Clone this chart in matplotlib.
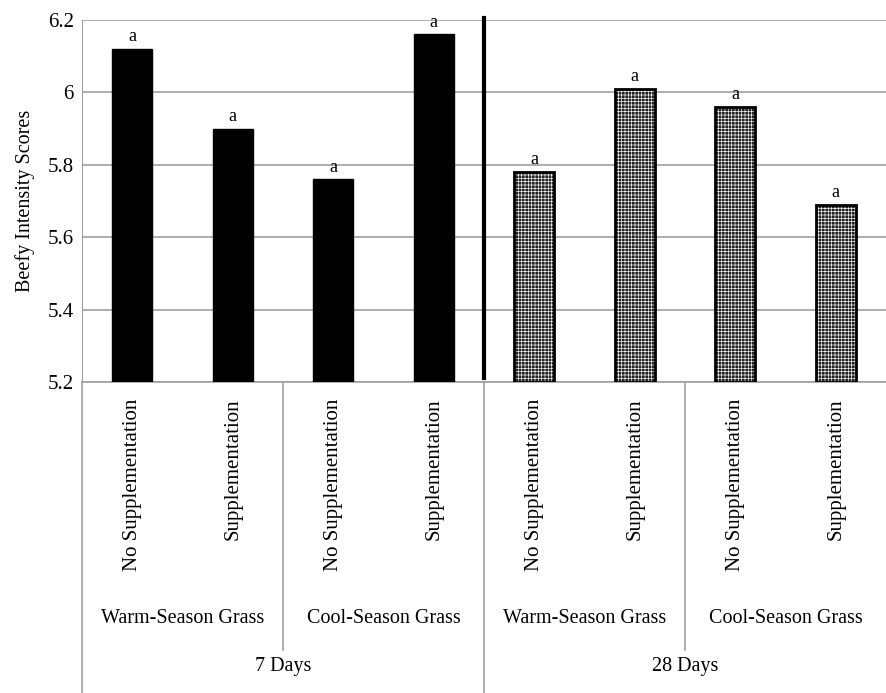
import matplotlib
matplotlib.use("Agg")
import matplotlib.pyplot as plt
from matplotlib.lines import Line2D
import matplotlib.transforms as mtransforms

plt.rcParams['font.family'] = ['Liberation Serif', 'DejaVu Serif']
plt.rcParams['hatch.linewidth'] = 0.45

treatments = ["No Supplementation", "Supplementation"] * 4
grasses = ["Warm-Season Grass", "Cool-Season Grass", "Warm-Season Grass", "Cool-Season Grass"]
days = ["7 Days", "28 Days"]
values = [6.12, 5.90, 5.76, 6.16, 5.78, 6.01, 5.96, 5.69]
letters = ["a"] * 8
yticks = [5.2, 5.4, 5.6, 5.8, 6.0, 6.2]
ytick_labels = ["5.2", "5.4", "5.6", "5.8", "6", "6.2"]

fig = plt.figure(figsize=(8.87, 6.93), dpi=100)
ax = fig.add_axes([82/887, 1-382/693, 804/887, 362/693])

x = list(range(len(values)))
ymin = 5.2
for i, v in enumerate(values):
    if i < 4:
        ax.bar(i, v - ymin, bottom=ymin, width=0.4, color='black', edgecolor='black', zorder=3)
    else:
        ax.bar(i, v - ymin, bottom=ymin, width=0.4, color='#222222', edgecolor='white',
               hatch='+++++', linewidth=0, zorder=3)
        ax.bar(i, v - ymin, bottom=ymin, width=0.4, fill=False, edgecolor='black',
               linewidth=2, zorder=3.5)
    ax.text(i, v + 0.01, letters[i], ha='center', va='bottom', fontsize=13, zorder=4)

ax.set_xlim(-0.5, len(values) - 0.5)
ax.set_ylim(5.2, 6.2)
ax.set_yticks(yticks)
ax.set_yticklabels(ytick_labels, fontsize=15)
ax.yaxis.grid(True, color='#a0a0a0', linewidth=1.2, zorder=0)
ax.set_axisbelow(True)
for s in ['top', 'right', 'bottom']:
    ax.spines[s].set_visible(False)
ax.spines['left'].set_color('#a0a0a0')
ax.tick_params(axis='y', length=0, pad=6)
ax.tick_params(axis='x', length=0, pad=12)
ax.set_xticks(x)
ax.set_xticklabels(treatments, rotation=90, fontsize=15, va='top')
ax.set_ylabel("Beefy Intensity Scores", fontsize=14.5, labelpad=9)

# thick divider
ax.plot([3.5, 3.5], [5.21, 6.205], color='black', linewidth=3, zorder=5, clip_on=False)

trans = mtransforms.blended_transform_factory(ax.transData, ax.transAxes)
for g, name in enumerate(grasses):
    ax.text(2*g + 0.5, -0.652, name, transform=trans, ha='center', va='center', fontsize=14.5)
for d, name in enumerate(days):
    ax.text(4*d + 1.5, -0.787, name, transform=trans, ha='center', va='center', fontsize=14.5)

for xs in [1.5, 5.5]:
    ax.add_line(Line2D([xs, xs], [0, -0.74], transform=trans, color='#a0a0a0', linewidth=1.2, clip_on=False))
for xs in [-0.5, 3.5]:
    ax.add_line(Line2D([xs, xs], [0, -0.87], transform=trans, color='#a0a0a0', linewidth=1.2, clip_on=False))
ax.add_line(Line2D([-0.5, 7.5], [0, 0], transform=trans, color='#a0a0a0', linewidth=1.2, clip_on=False))

fig.savefig("out.png", dpi=100)
